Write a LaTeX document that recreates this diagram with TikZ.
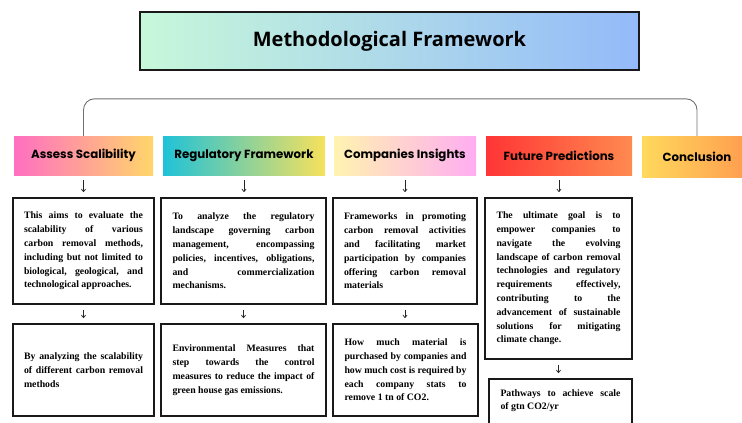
\documentclass[tikz,border=0pt]{standalone}
\usepackage{fontspec}
\setmainfont{Liberation Serif}
\newfontfamily\titlefont{Open Sans}
\newfontfamily\headfont{Poppins}
\usetikzlibrary{arrows.meta,positioning}

\definecolor{titleL}{HTML}{C7F8DA}
\definecolor{titleR}{HTML}{94BAF9}
\definecolor{aL}{HTML}{FF6FC1}
\definecolor{aR}{HTML}{FFD66A}
\definecolor{rL}{HTML}{1FC2D8}
\definecolor{rR}{HTML}{F7E15C}
\definecolor{cL}{HTML}{FFF3B0}
\definecolor{cR}{HTML}{FFADF2}
\definecolor{fL}{HTML}{FF3535}
\definecolor{fR}{HTML}{FF8A50}
\definecolor{kL}{HTML}{FFD95C}
\definecolor{kR}{HTML}{FF9A4E}
\definecolor{bracketgray}{HTML}{707070}

\tikzset{
  titlebox/.style={draw=black!90, line width=1.4pt, minimum width=499pt,
    minimum height=58pt, inner sep=0pt, font=\titlefont\bfseries\fontsize{20}{23}\selectfont},
  headbox/.style={inner sep=0pt, minimum height=39pt,
    font=\headfont\bfseries\fontsize{11.8}{14}\selectfont},
  textbox/.style={draw=black!90, line width=1.6pt, inner xsep=0pt, inner ysep=0pt,
    align=justify, font=\bfseries\fontsize{9.8}{13.8}\selectfont},
  flow/.style={draw=black!85, line width=0.7pt,
    -{Straight Barb[length=2.6pt,width=4.2pt]}, shorten <=5pt, shorten >=5pt},
  bracket/.style={draw=bracketgray, line width=0.9pt, rounded corners=11pt}
}

\begin{document}
\begin{tikzpicture}[x=1pt,y=-1pt]
\useasboundingbox (0,0) rectangle (742,423);

% title
\node[titlebox, left color=titleL, right color=titleR] (title) at (389.5,41) {Methodological Framework};

% header row
\node[headbox, minimum width=139pt, left color=aL, right color=aR] (h1) at (83.5,155.5) {Assess Scalibility};
\node[headbox, minimum width=162pt, left color=rL, right color=rR] (h2) at (244,155.5) {Regulatory Framework};
\node[headbox, minimum width=142pt, left color=cL, right color=cR] (h3) at (405,155.5) {Companies Insights};
\node[headbox, minimum width=146pt, left color=fL, right color=fR] (h4) at (559,155.5) {Future Predictions};
\node[headbox, minimum width=110pt, minimum height=41pt, left color=kL, right color=kR] (h5) at (697,156.5) {Conclusion};

% bracket joining the columns
\draw[bracket] (h1.north) -- ++(0,-37) -| (h5.north);

% first row of descriptions
\node[textbox, minimum width=141pt, minimum height=106pt, text width=119pt] (b1) at (83.5,251) {%
This aims to evaluate the\linebreak
scalability of various\linebreak
carbon removal methods,\linebreak
including but not limited to\linebreak
biological, geological, and\linebreak
technological approaches.};

\node[textbox, minimum width=165pt, minimum height=106pt, text width=142pt] (b2) at (243.5,251) {%
To analyze the regulatory\linebreak
landscape governing carbon\linebreak
management, encompassing\linebreak
policies, incentives, obligations,\linebreak
and commercialization\linebreak
mechanisms.};

\node[textbox, minimum width=144pt, minimum height=106pt, text width=122pt] (b3) at (405,251) {%
Frameworks in promoting\linebreak
carbon removal activities\linebreak
and facilitating market\linebreak
participation by companies\linebreak
offering carbon removal\linebreak
materials};

\node[textbox, minimum width=147pt, minimum height=161pt, text width=124pt] (b4) at (558.5,278.5) {%
The ultimate goal is to\linebreak
empower companies to\linebreak
navigate the evolving\linebreak
landscape of carbon removal\linebreak
technologies and regulatory\linebreak
requirements effectively,\linebreak
contributing to the\linebreak
advancement of sustainable\linebreak
solutions for mitigating\linebreak
climate change.};

% second row
\node[textbox, minimum width=141pt, minimum height=92pt, text width=119pt] (c1) at (83.5,370) {%
By analyzing the scalability\linebreak
of different carbon removal\linebreak
methods};

\node[textbox, minimum width=165pt, minimum height=92pt, text width=142pt] (c2) at (243.5,370) {%
Environmental Measures that\linebreak
step towards the control\linebreak
measures to reduce the impact of\linebreak
green house gas emissions.};

\node[textbox, minimum width=145pt, minimum height=92pt, text width=122pt] (c3) at (405.5,370) {%
How much material is\linebreak
purchased by companies and\linebreak
how much cost is required by\linebreak
each company stats to\linebreak
remove 1 tn of CO2.};

\node[textbox, minimum width=143pt, minimum height=62pt, text width=120pt] (c4) at (560.5,410) {};
\node[font=\bfseries\fontsize{9.8}{13.8}\selectfont, align=justify, text width=120pt,
  inner sep=0pt, anchor=north] (c4t) at (560.5,389) {%
Pathways to achieve scale\linebreak
of gtn CO2/yr};

% arrows
\draw[flow] (h1.south) -- (b1.north);
\draw[flow] (h2.south) -- (h2.south |- b2.north);
\draw[flow] (h3.south) -- (h3.south |- b3.north);
\draw[flow] (h4.south) -- (h4.south |- b4.north);
\draw[flow] (b1.south) -- (c1.north);
\draw[flow] (b2.south) -- (c2.north);
\draw[flow] (b3.south) -- (b3.south |- c3.north);
\draw[flow] (b4.south) -- (b4.south |- c4.north);
\end{tikzpicture}
\end{document}
